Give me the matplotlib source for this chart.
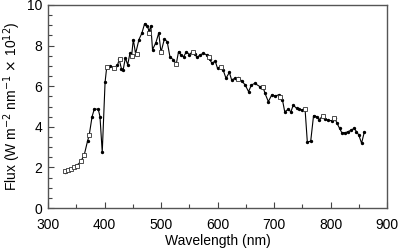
import matplotlib
matplotlib.use("Agg")
import matplotlib.pyplot as plt
from matplotlib.ticker import MultipleLocator

wavelength = [330, 336, 341, 347, 352, 358, 364, 370, 373, 378, 382, 389, 392, 396,
              401, 404, 410, 417, 423, 426, 430, 433, 437, 441, 445, 448, 451, 455,
              461, 466, 471, 476, 479, 482, 485, 491, 496, 500, 506, 511, 516, 522,
              527, 531, 536, 540, 545, 550, 556, 560, 564, 569, 575, 581, 586, 590,
              596, 600, 606, 610, 615, 621, 625, 631, 637, 643, 649, 655, 660, 666,
              675, 681, 684, 690, 696, 702, 708, 711, 715, 719, 725, 730, 734, 740,
              745, 750, 755, 759, 765, 770, 776, 780, 786, 790, 796, 802, 808, 811,
              816, 820, 826, 831, 837, 842, 846, 850, 855, 860]
flux = [1.78, 1.85, 1.92, 2.0, 2.1, 2.3, 2.6, 3.3, 3.6, 4.5, 4.88, 4.86, 4.5, 2.74,
        6.19, 6.96, 7.0, 6.91, 7.02, 7.33, 6.85, 6.8, 7.4, 7.05, 7.62, 7.5, 8.3, 7.6,
        8.3, 8.6, 9.08, 8.95, 8.7, 8.97, 7.8, 8.15, 8.62, 7.67, 8.33, 8.19, 7.42, 7.31,
        7.09, 7.7, 7.52, 7.45, 7.7, 7.56, 7.7, 7.57, 7.42, 7.54, 7.62, 7.54, 7.34, 7.13,
        7.24, 6.88, 6.93, 6.8, 6.39, 6.68, 6.31, 6.39, 6.39, 6.26, 6.06, 5.73, 6.06, 6.14,
        5.98, 5.93, 5.65, 5.24, 5.57, 5.52, 5.57, 5.48, 5.32, 4.74, 4.86, 4.74, 5.07, 4.91,
        4.86, 4.83, 4.86, 3.24, 3.3, 4.55, 4.5, 4.35, 4.53, 4.37, 4.32, 4.3, 4.42, 4.2,
        3.93, 3.71, 3.71, 3.76, 3.84, 3.93, 3.76, 3.6, 3.19, 3.76]

sq_wavelength = [330, 336, 341, 346, 351, 358, 364, 373, 404, 417, 427, 449, 458,
                 479, 500, 527, 556, 585, 606, 637, 681, 710, 754, 786, 806]
sq_flux = [1.8, 1.85, 1.92, 2.0, 2.07, 2.3, 2.6, 3.6, 6.96, 6.91, 7.33, 7.49, 7.57,
           8.6, 7.67, 7.09, 7.68, 7.42, 6.96, 6.36, 5.98, 5.48, 4.86, 4.55, 4.45]

plt.rcParams['font.family'] = ['Liberation Sans', 'DejaVu Sans']
fig = plt.figure(figsize=(3.99, 2.52), dpi=100)
ax = fig.add_axes([48/399, 1-208/252, (387-48)/399, (208-5)/252])

ax.plot(wavelength, flux, color='black', lw=0.8, marker='o', ms=1.4,
        mfc='black', mec='black', zorder=3)
ax.plot(sq_wavelength, sq_flux, ls='none', marker='s', ms=3.2, mfc='white',
        mec='#333333', mew=0.6, zorder=4)

ax.set_xlim(300, 900)
ax.set_ylim(0, 10)
ax.xaxis.set_major_locator(MultipleLocator(100))
ax.xaxis.set_minor_locator(MultipleLocator(50))
ax.yaxis.set_major_locator(MultipleLocator(2))
ax.yaxis.set_minor_locator(MultipleLocator(0.5))
ax.tick_params(which='both', direction='in', top=False, right=False,
               color='#444444', labelsize=10, width=0.8)
ax.tick_params(axis='x', which='major', length=4, pad=7)
ax.tick_params(axis='y', which='major', length=4, pad=4)
ax.tick_params(which='minor', length=3)
for s in ax.spines.values():
    s.set_color('#555555')
    s.set_linewidth(1.0)

ax.set_xlabel('Wavelength (nm)', fontsize=10, labelpad=2)
ax.set_ylabel('Flux (W m$^{-2}$ nm$^{-1}$ $\\times$ 10$^{12}$)', fontsize=10, labelpad=3)

fig.savefig('out.png', dpi=100)
